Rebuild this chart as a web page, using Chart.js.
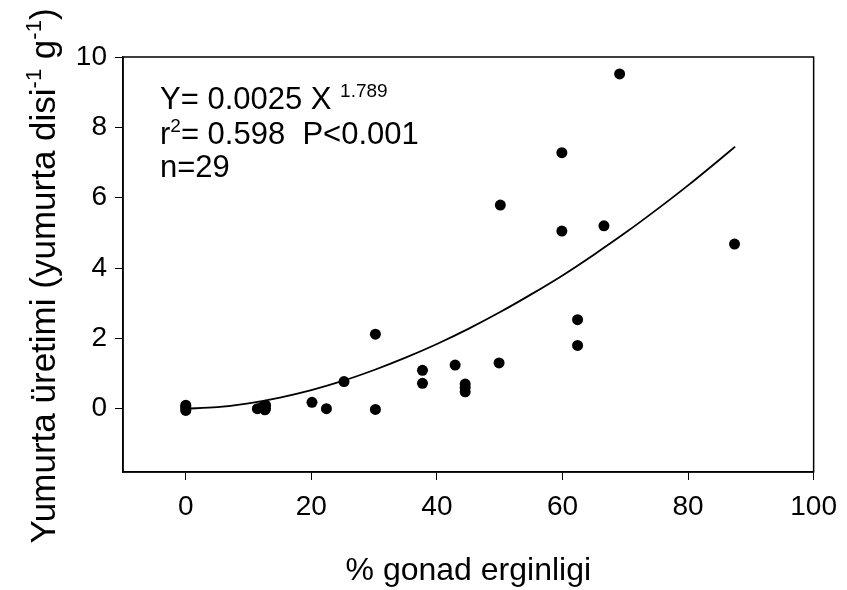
<!DOCTYPE html>
<html>
<head>
<meta charset="utf-8">
<script src="https://cdn.jsdelivr.net/npm/chart.js@4/dist/chart.umd.min.js"></script>
<style>
html,body{margin:0;padding:0;background:#fff;}
#wrap{width:847px;height:590px;position:relative;}
</style>
</head>
<body>
<div id="wrap"><canvas id="c" width="847" height="590"></canvas></div>
<script>
// ---- data ----
const gonadPct = [0, 0, 0, 0, 11.4, 12.2, 12.7, 12.6, 12.7, 20.1, 22.4, 25.2, 30.2, 30.2, 37.7, 37.7, 42.9, 44.5, 44.5, 44.5, 49.9, 50.1, 59.9, 59.9, 62.4, 62.4, 66.6, 69.1, 87.4];
const eggProd  = [0.1, 0.05, 0, -0.05, 0.0, 0.05, 0.1, -0.03, 0.0, 0.18, 0.0, 0.77, 2.12, -0.02, 1.09, 0.72, 1.24, 0.70, 0.60, 0.48, 1.30, 5.79, 7.28, 5.05, 2.53, 1.80, 5.20, 9.52, 4.68];
// fitted curve Y = 0.0025 X^1.789 (values at listed X)
const fitX = [0, 5, 10, 15, 20, 25, 30, 35, 40, 45, 50, 55, 60, 65, 70, 75, 80, 85, 87.5];
const fitY = [0, 0.045, 0.154, 0.318, 0.53, 0.79, 1.10, 1.45, 1.84, 2.27, 2.74, 3.25, 3.79, 4.38, 5.00, 5.66, 6.35, 7.08, 7.45];
const xTicks = [0, 20, 40, 60, 80, 100];
const yTicks = [0, 2, 4, 6, 8, 10];
const xTitle = '% gonad erginligi';
const yTitleParts = [['Yumurta üretimi (yumurta disi', 0], ['-1', 1], [' g', 0], ['-1', 1], [')', 0]];
const statLines = [
  [['Y= 0.0025 X ', 0], ['1.789', 1]],
  [['r', 0], ['2', 1], ['= 0.598  P<0.001', 0]],
  [['n=29', 0]]
];

const FONT = '"Liberation Sans", Arial, Helvetica, sans-serif';

function drawRich(ctx, parts, x, y, size, supSize, supRise) {
  let cx = x;
  for (const [t, sup] of parts) {
    ctx.font = (sup ? supSize : size) + 'px ' + FONT;
    ctx.fillText(t, cx, sup ? y - supRise : y);
    cx += ctx.measureText(t).width;
  }
}
function richWidth(ctx, parts, size, supSize) {
  let w = 0;
  for (const [t, sup] of parts) {
    ctx.font = (sup ? supSize : size) + 'px ' + FONT;
    w += ctx.measureText(t).width;
  }
  return w;
}

const framePlugin = {
  id: 'frame',
  afterDatasetsDraw(chart) {
    const {ctx, chartArea: a} = chart;
    ctx.save();
    ctx.strokeStyle = '#000';
    ctx.lineWidth = 1.5;
    ctx.strokeRect(a.left, a.top, a.right - a.left, a.bottom - a.top);
    ctx.restore();
  }
};

const textPlugin = {
  id: 'texts',
  afterDraw(chart) {
    const {ctx} = chart;
    ctx.save();
    ctx.fillStyle = '#000';
    ctx.textBaseline = 'alphabetic';
    ctx.textAlign = 'left';
    // y axis title
    const ySize = 35, ySup = 22;
    const w = richWidth(ctx, yTitleParts, ySize, ySup);
    ctx.save();
    ctx.translate(55, 276);
    ctx.rotate(-Math.PI / 2);
    drawRich(ctx, yTitleParts, -w / 2, 0, ySize, ySup, 14);
    ctx.restore();
    // statistics text
    const base = [109, 144, 177];
    statLines.forEach((parts, i) => {
      drawRich(ctx, parts, 160, base[i], 31, 19, 12);
    });
    ctx.restore();
  }
};

new Chart(document.getElementById('c'), {
  type: 'scatter',
  data: {
    datasets: [
      {
        type: 'line',
        data: fitX.map((x, i) => ({x: x, y: fitY[i]})),
        borderColor: '#000',
        borderWidth: 1.8,
        pointRadius: 0,
        fill: false,
        tension: 0.4,
        cubicInterpolationMode: 'monotone',
        order: 2
      },
      {
        type: 'scatter',
        data: gonadPct.map((x, i) => ({x: x, y: eggProd[i]})),
        backgroundColor: '#000',
        borderColor: '#000',
        borderWidth: 0,
        pointRadius: 5.5,
        order: 1
      }
    ]
  },
  options: {
    responsive: false,
    devicePixelRatio: 1,
    animation: false,
    layout: {padding: {top: 57, right: 20, left: 0, bottom: 0}},
    plugins: {legend: {display: false}, tooltip: {enabled: false}},
    scales: {
      x: {
        type: 'linear',
        min: -10, max: 100,
        afterBuildTicks: s => { s.ticks = xTicks.map(v => ({value: v})); },
        afterFit: s => { s.height = 118; },
        ticks: {color: '#000', font: {family: FONT, size: 28}, padding: 10, maxRotation: 0},
        grid: {drawOnChartArea: false, color: '#000', tickLength: 8, lineWidth: 1},
        border: {color: '#000', width: 1.5},
        title: {display: true, text: xTitle, color: '#000', font: {family: FONT, size: 32}, padding: {top: 0, bottom: 0}}
      },
      y: {
        type: 'linear',
        min: -1.8, max: 10,
        afterBuildTicks: s => { s.ticks = yTicks.map(v => ({value: v})); },
        afterFit: s => { s.width = 123; },
        ticks: {color: '#000', font: {family: FONT, size: 28}, padding: 8},
        grid: {drawOnChartArea: false, color: '#000', tickLength: 8, lineWidth: 1},
        border: {color: '#000', width: 1.5}
      }
    }
  },
  plugins: [framePlugin, textPlugin]
});
</script>
</body>
</html>
